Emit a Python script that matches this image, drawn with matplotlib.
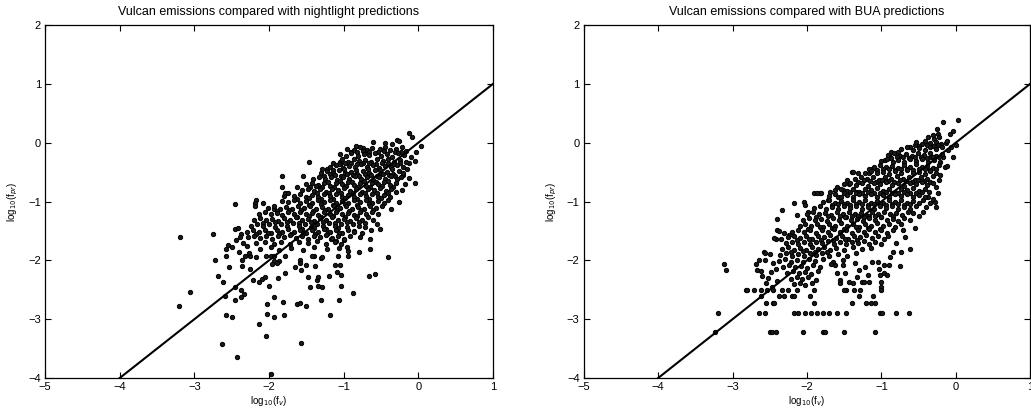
import numpy as np
import matplotlib
matplotlib.use("Agg")
import matplotlib.pyplot as plt

plt.rcParams['font.family'] = ['Liberation Sans', 'DejaVu Sans']

# axis ranges and ticks (same for both panels)
x_ticks = [-5, -4, -3, -2, -1, 0, 1]
y_ticks = [-4, -3, -2, -1, 0, 1, 2]
one_to_one = [-5, 1]

titles = ["Vulcan emissions compared with nightlight predictions",
          "Vulcan emissions compared with BUA predictions"]

# ---- nightlight panel: sparse points
nl_sparse = [
    (-3.21, -2.78), (-3.19, -1.60), (-3.06, -2.53), (-2.75, -1.56), (-2.72, -1.99), (-2.68, -2.27),
    (-2.63, -3.42), (-2.61, -2.36), (-2.59, -2.61), (-2.58, -2.93), (-2.58, -1.93), (-2.55, -1.74),
    (-2.58, -1.80), (-2.53, -2.12), (-2.50, -2.97), (-2.49, -1.77), (-2.45, -1.05), (-2.46, -1.46),
    (-2.41, -1.45), (-2.46, -2.67), (-2.43, -3.64), (-2.45, -2.46), (-2.44, -1.65), (-2.37, -1.56),
    (-2.39, -1.60), (-2.37, -2.50), (-2.33, -2.58), (-2.38, -2.62), (-2.36, -1.99), (-2.36, -2.10),
    (-2.26, -2.14), (-2.32, -1.93), (-2.25, -1.93), (-2.18, -1.94), (-2.21, -2.34), (-2.14, -2.36),
    (-2.10, -2.32), (-2.05, -2.28), (-2.00, -2.43), (-2.03, -2.74), (-2.03, -2.91), (-1.93, -2.97),
    (-1.93, -2.63), (-2.13, -3.08), (-2.04, -3.29), (-1.98, -3.93), (-1.88, -2.30), (-1.78, -2.22),
    (-1.81, -2.71), (-1.80, -2.93), (-2.04, -1.93), (-1.97, -1.93), (-1.93, -1.93), (-1.94, -2.01),
    (-1.87, -2.01), (-1.96, -2.07), (-1.90, -2.05), (-1.78, -1.93), (-1.65, -2.11), (-1.58, -2.00),
    (-1.57, -2.16), (-1.51, -2.08), (-1.59, -2.04), (-1.48, -2.28), (-1.38, -2.10), (-1.40, -1.93),
    (-1.30, -1.96), (-1.45, -2.46), (-1.36, -2.33), (-1.35, -2.29), (-1.34, -2.43), (-1.29, -2.46),
    (-1.63, -2.74), (-1.58, -2.72), (-1.51, -2.78), (-1.20, -2.26), (-1.12, -2.08), (-1.05, -2.08),
    (-1.09, -2.19), (-1.04, -2.25), (-1.04, -2.44), (-1.30, -2.68), (-1.06, -2.68), (-1.19, -2.93),
    (-1.57, -3.41), (-1.08, -1.93), (-0.94, -1.93), (-0.87, -2.56), (-0.66, -2.27), (-0.58, -2.23),
    (-0.41, -1.94), (-0.79, -1.86), (-0.65, -1.81), (-0.65, -1.64), (-0.51, -1.47), (-0.56, -1.39),
    (-0.37, -1.13), (-0.26, -1.00), (-0.05, -0.68), (-0.04, -0.31), (-0.03, -0.16), (0.03, -0.06),
    (-0.12, 0.17), (-0.08, 0.10), (-0.28, 0.05), (-0.26, 0.03), (-0.61, 0.02), (-0.83, -0.05),
    (-0.74, -0.09), (-1.05, -0.20), (-1.05, -0.33), (-1.05, -0.37), (-1.47, -0.32), (-1.29, -0.44),
    (-1.83, -0.56), (-1.54, -0.56), (-1.63, -0.76), (-1.82, -0.76), (-1.80, -0.91), (-1.82, -0.99),
    (-1.79, -0.86), (-1.75, -0.86), (-2.17, -0.97), (-2.19, -1.02), (-2.19, -1.08), (-1.42, -1.93),
    (-1.29, -1.95), (-0.95, -1.78), (-0.94, -1.84), (-1.00, -1.65), (-1.10, -1.67), (-1.17, -1.63),
    (-0.86, -1.50), (-0.76, -1.54), (-0.71, -1.43), (-0.78, -1.61), (-0.64, -1.48), (-2.08, -1.03),
    (-1.94, -1.12), (-2.40, -1.86), (-2.30, -1.75), (-2.35, -1.70), (-2.27, -1.88), (-0.20, -0.55),
    (-0.15, -0.45), (-0.18, -0.70), (-0.12, -0.60), (-0.22, -0.80), (-0.10, -0.25), (-0.13, -0.35),
    (-0.45, 0.00), (-0.35, -0.02), (-0.95, -0.10), (-0.90, -0.15), (-1.15, -0.35), (-1.22, -0.45),
]

# ---- nightlight panel: dense core of the cloud
nl_core = [
    (-0.86, -0.12), (-0.78, -0.08), (-0.69, -0.13), (-0.62, -0.09), (-0.52, -0.11), (-0.45, -0.07),
    (-0.38, -0.13), (-0.30, -0.10), (-0.22, -0.08), (-0.16, -0.14),
    (-0.82, -0.16), (-0.74, -0.14), (-0.66, -0.15), (-0.54, -0.16), (-0.46, -0.14), (-0.31, -0.15),
    (-0.23, -0.16),
    (-0.97, -0.22), (-0.90, -0.18), (-0.81, -0.23), (-0.73, -0.19), (-0.66, -0.21), (-0.58, -0.17),
    (-0.50, -0.22), (-0.42, -0.19), (-0.35, -0.24), (-0.27, -0.18), (-0.19, -0.21),
    (-1.02, -0.28), (-0.94, -0.32), (-0.86, -0.27), (-0.79, -0.31), (-0.71, -0.29), (-0.63, -0.33),
    (-0.55, -0.28), (-0.48, -0.31), (-0.40, -0.27), (-0.32, -0.32), (-0.24, -0.29), (-0.17, -0.33),
    (-1.06, -0.36), (-0.98, -0.34), (-0.90, -0.35), (-0.82, -0.36), (-0.74, -0.34), (-0.66, -0.35),
    (-0.57, -0.36), (-0.49, -0.34), (-0.41, -0.35), (-0.33, -0.36), (-0.25, -0.34),
    (-1.18, -0.41), (-1.10, -0.38), (-1.01, -0.43), (-0.93, -0.39), (-0.85, -0.42), (-0.77, -0.37),
    (-0.69, -0.41), (-0.61, -0.38), (-0.53, -0.43), (-0.45, -0.39), (-0.37, -0.42), (-0.29, -0.38),
    (-0.21, -0.41),
    (-1.15, -0.46), (-0.99, -0.45), (-0.83, -0.46), (-0.67, -0.45), (-0.51, -0.46), (-0.35, -0.45),
    (-1.31, -0.52), (-1.22, -0.48), (-1.14, -0.51), (-1.06, -0.47), (-0.98, -0.52), (-0.90, -0.49),
    (-0.82, -0.53), (-0.74, -0.48), (-0.66, -0.51), (-0.58, -0.47), (-0.50, -0.52), (-0.42, -0.49),
    (-0.34, -0.53), (-0.26, -0.48), (-0.20, -0.52),
    (-1.27, -0.56), (-1.19, -0.54), (-1.11, -0.55), (-1.03, -0.56), (-0.95, -0.54), (-0.87, -0.55),
    (-0.79, -0.56), (-0.71, -0.54), (-0.63, -0.55), (-0.55, -0.56), (-0.47, -0.54), (-0.39, -0.55),
    (-0.31, -0.56),
    (-1.41, -0.61), (-1.33, -0.58), (-1.25, -0.62), (-1.17, -0.59), (-1.09, -0.63), (-1.01, -0.58),
    (-0.93, -0.61), (-0.85, -0.57), (-0.77, -0.62), (-0.69, -0.59), (-0.61, -0.63), (-0.53, -0.58),
    (-0.45, -0.61), (-0.37, -0.57), (-0.29, -0.62), (-0.23, -0.58),
    (-1.21, -0.66), (-1.05, -0.65), (-0.89, -0.66), (-0.73, -0.65), (-0.57, -0.66), (-0.41, -0.65),
    (-1.50, -0.71), (-1.42, -0.68), (-1.34, -0.72), (-1.26, -0.69), (-1.18, -0.73), (-1.10, -0.68),
    (-1.02, -0.71), (-0.94, -0.67), (-0.86, -0.72), (-0.78, -0.69), (-0.70, -0.73), (-0.62, -0.68),
    (-0.54, -0.71), (-0.46, -0.67), (-0.38, -0.72), (-0.30, -0.69),
    (-1.45, -0.76), (-1.37, -0.74), (-1.29, -0.75), (-1.13, -0.76), (-0.97, -0.74), (-0.81, -0.75),
    (-0.65, -0.76), (-0.49, -0.74), (-0.34, -0.75),
    (-1.56, -0.81), (-1.48, -0.78), (-1.40, -0.82), (-1.32, -0.79), (-1.24, -0.83), (-1.16, -0.78),
    (-1.08, -0.81), (-1.00, -0.77), (-0.92, -0.82), (-0.84, -0.79), (-0.76, -0.83), (-0.68, -0.78),
    (-0.60, -0.81), (-0.52, -0.77), (-0.44, -0.82), (-0.36, -0.79), (-0.30, -0.84),
    (-1.36, -0.86), (-1.20, -0.85), (-1.04, -0.86), (-0.88, -0.85), (-0.72, -0.86), (-0.56, -0.85),
    (-0.40, -0.86),
    (-1.66, -0.91), (-1.58, -0.88), (-1.50, -0.92), (-1.42, -0.89), (-1.34, -0.93), (-1.26, -0.88),
    (-1.18, -0.91), (-1.10, -0.87), (-1.02, -0.92), (-0.94, -0.89), (-0.86, -0.93), (-0.78, -0.88),
    (-0.70, -0.91), (-0.62, -0.87), (-0.54, -0.92), (-0.46, -0.89), (-0.38, -0.93),
    (-1.62, -0.96), (-1.46, -0.94), (-1.30, -0.95), (-1.14, -0.96), (-0.98, -0.94), (-0.82, -0.95),
    (-0.66, -0.96), (-0.50, -0.94),
    (-1.74, -1.01), (-1.66, -0.98), (-1.58, -1.02), (-1.50, -0.99), (-1.42, -1.03), (-1.34, -0.98),
    (-1.26, -1.01), (-1.18, -0.97), (-1.10, -1.02), (-1.02, -0.99), (-0.94, -1.03), (-0.86, -0.98),
    (-0.78, -1.01), (-0.70, -0.97), (-0.62, -1.02), (-0.54, -0.99), (-0.46, -1.03), (-0.41, -0.97),
    (-1.46, -1.06), (-1.30, -1.05), (-1.14, -1.06), (-0.98, -1.05), (-0.82, -1.06), (-0.66, -1.05),
    (-2.01, -1.11), (-1.93, -1.08), (-1.85, -1.12), (-1.77, -1.09), (-1.69, -1.13), (-1.61, -1.08),
    (-1.53, -1.11), (-1.45, -1.07), (-1.37, -1.12), (-1.29, -1.09), (-1.21, -1.13), (-1.13, -1.08),
    (-1.05, -1.11), (-0.97, -1.07), (-0.89, -1.12), (-0.81, -1.09), (-0.73, -1.13), (-0.65, -1.08),
    (-0.57, -1.11), (-0.49, -1.07),
    (-1.89, -1.16), (-1.73, -1.14), (-1.57, -1.15), (-1.41, -1.16), (-1.25, -1.14), (-1.09, -1.15),
    (-0.93, -1.16), (-0.77, -1.14), (-0.61, -1.15),
    (-2.14, -1.21), (-2.06, -1.18), (-1.98, -1.22), (-1.90, -1.19), (-1.82, -1.23), (-1.74, -1.18),
    (-1.66, -1.21), (-1.58, -1.17), (-1.50, -1.22), (-1.42, -1.19), (-1.34, -1.23), (-1.26, -1.18),
    (-1.18, -1.21), (-1.10, -1.17), (-1.02, -1.22), (-0.94, -1.19), (-0.86, -1.23), (-0.78, -1.18),
    (-0.70, -1.21), (-0.62, -1.17), (-0.54, -1.22),
    (-1.62, -1.26), (-1.46, -1.25), (-1.30, -1.26), (-1.14, -1.25), (-0.98, -1.26), (-0.82, -1.25),
    (-2.20, -1.31), (-2.12, -1.28), (-2.04, -1.32), (-1.96, -1.29), (-1.88, -1.33), (-1.80, -1.28),
    (-1.72, -1.31), (-1.64, -1.27), (-1.56, -1.32), (-1.48, -1.29), (-1.40, -1.33), (-1.32, -1.28),
    (-1.24, -1.31), (-1.16, -1.27), (-1.08, -1.32), (-1.00, -1.29), (-0.92, -1.33), (-0.84, -1.28),
    (-0.76, -1.31), (-0.68, -1.27), (-0.61, -1.32),
    (-2.08, -1.36), (-1.92, -1.34), (-1.76, -1.35), (-1.60, -1.36), (-1.44, -1.34), (-1.28, -1.35),
    (-1.12, -1.36), (-0.96, -1.34), (-0.80, -1.35),
    (-2.24, -1.41), (-2.16, -1.38), (-2.08, -1.42), (-2.00, -1.39), (-1.92, -1.43), (-1.84, -1.38),
    (-1.76, -1.41), (-1.68, -1.37), (-1.60, -1.42), (-1.52, -1.39), (-1.44, -1.43), (-1.36, -1.38),
    (-1.28, -1.41), (-1.20, -1.37), (-1.12, -1.42), (-1.04, -1.39), (-0.96, -1.43), (-0.88, -1.38),
    (-0.80, -1.41), (-0.72, -1.37),
    (-1.56, -1.46), (-1.40, -1.45), (-1.24, -1.46), (-1.08, -1.45),
    (-2.30, -1.51), (-2.22, -1.48), (-2.14, -1.52), (-2.06, -1.49), (-1.98, -1.53), (-1.90, -1.48),
    (-1.82, -1.51), (-1.74, -1.47), (-1.66, -1.52), (-1.58, -1.49), (-1.50, -1.53), (-1.42, -1.48),
    (-1.34, -1.51), (-1.26, -1.47), (-1.18, -1.52), (-1.10, -1.49), (-1.02, -1.53), (-0.94, -1.48),
    (-0.86, -1.51),
    (-2.18, -1.56), (-2.02, -1.54), (-1.86, -1.55), (-1.70, -1.56), (-1.54, -1.54), (-1.38, -1.55),
    (-1.22, -1.56), (-1.06, -1.54),
    (-2.28, -1.61), (-2.20, -1.58), (-2.12, -1.62), (-2.04, -1.59), (-1.96, -1.63), (-1.88, -1.58),
    (-1.80, -1.61), (-1.72, -1.57), (-1.64, -1.62), (-1.56, -1.59), (-1.48, -1.63), (-1.40, -1.58),
    (-1.32, -1.61), (-1.24, -1.57), (-1.16, -1.62), (-1.08, -1.59), (-1.00, -1.63), (-0.92, -1.58),
    (-2.18, -1.71), (-2.06, -1.68), (-1.94, -1.72), (-1.84, -1.69), (-1.72, -1.73), (-1.60, -1.68),
    (-1.48, -1.71), (-1.36, -1.67), (-1.24, -1.72), (-1.12, -1.69), (-1.03, -1.73),
    (-2.12, -1.81), (-1.98, -1.78), (-1.86, -1.83), (-1.70, -1.79), (-1.55, -1.82), (-1.40, -1.78),
    (-1.22, -1.81), (-1.06, -1.79),
]

# ---- BUA panel: sparse points
bua_sparse = [
    (-3.11, -2.06), (-3.09, -2.17), (-2.69, -2.06), (-2.62, -2.18), (-2.58, -1.85), (-2.65, -1.99),
    (-2.67, -2.16), (-2.60, -2.27), (-2.55, -2.38), (-2.52, -2.30), (-2.49, -2.20), (-2.47, -2.45),
    (-2.45, -2.05), (-2.42, -2.15), (-2.40, -2.35), (-2.50, -1.90), (-2.56, -2.00), (-2.40, -1.29),
    (-2.33, -1.14), (-2.42, -1.63), (-2.40, -1.48), (-2.31, -1.54), (-2.17, -1.03), (-2.14, -1.23),
    (-2.04, -1.00), (-1.90, -0.85), (-1.82, -0.85), (-1.72, -0.97), (-1.69, -0.83), (-1.59, -0.75),
    (-1.46, -0.63), (-1.40, -0.49), (-1.31, -0.51), (-1.17, -0.52), (-1.13, -0.44), (-0.95, -0.29),
    (-0.88, -0.24), (-0.77, -0.15), (-0.62, -0.07), (-0.55, -0.04), (0.03, 0.39), (-0.17, 0.36),
    (-0.04, 0.20), (-0.25, 0.24), (-0.24, 0.15), (-0.22, 0.10), (-0.31, 0.13), (-0.29, 0.07),
    (-0.37, 0.09), (-0.34, -0.01), (-0.13, -0.01), (0.00, -0.04), (-0.06, -0.07), (-0.17, -0.24),
    (-0.04, -0.25), (-0.15, -0.41), (-0.33, -0.24), (-0.26, -1.09), (-0.28, -1.00), (-0.24, -0.86),
    (-0.26, -0.75), (-0.22, -0.63), (-0.37, -0.92), (-0.44, -0.97), (-0.57, -1.20), (-0.62, -1.31),
    (-0.62, -1.81), (-0.75, -2.10), (-0.71, -1.48), (-0.21, -0.55), (-0.12, -0.40), (-0.44, -1.17),
    (-0.35, -1.03), (-0.08, 0.14), (-0.87, -0.15), (-1.16, -0.44), (-1.38, -0.49), (-1.81, -0.85),
    (-1.87, -0.85), (-2.02, -1.06), (-1.99, -1.17), (-2.38, -1.50), (-2.44, -1.62), (-2.35, -1.63),
    (-2.24, -1.57), (-2.56, -1.87), (-1.58, -0.92), (-1.51, -0.80), (-1.43, -0.70), (-1.33, -0.83),
    (-1.04, -2.02), (-1.03, -2.14), (-1.02, -2.25), (-1.01, -2.36), (-1.00, -2.45), (-0.97, -2.22),
    (-0.93, -2.25), (-0.97, -2.08), (-0.90, -2.08), (-1.62, -2.08), (-1.60, -2.22), (-1.56, -2.33),
    (-1.55, -2.39), (-1.51, -2.08), (-1.49, -2.22), (-1.44, -2.36), (-1.47, -2.50), (-1.38, -2.39),
    (-1.33, -2.28), (-1.26, -2.36), (-1.23, -2.36), (-1.17, -2.36), (-0.84, -1.85), (-0.73, -1.85),
    (-1.36, -2.05), (-1.30, -2.16), (-1.22, -2.12), (-1.18, -2.25), (-1.12, -2.02), (-0.88, -1.95),
    (-0.80, -1.70), (-0.68, -1.60), (-0.55, -1.45), (-0.50, -1.25), (-0.40, -1.10), (-0.30, -0.95),
]

# ---- BUA panel: dense core
bua_core = [
    (-0.54, 0.01), (-0.46, -0.03), (-0.41, 0.03), (-0.27, 0.01), (-0.20, -0.02), (-0.12, 0.03),
    (-0.50, -0.06), (-0.38, -0.04), (-0.30, -0.06), (-0.24, -0.04),
    (-0.74, -0.11), (-0.66, -0.08), (-0.58, -0.12), (-0.50, -0.09), (-0.42, -0.13), (-0.34, -0.08),
    (-0.26, -0.11), (-0.18, -0.07), (-0.10, -0.12),
    (-0.91, -0.21), (-0.83, -0.18), (-0.75, -0.22), (-0.67, -0.19), (-0.59, -0.23), (-0.51, -0.18),
    (-0.43, -0.21), (-0.35, -0.17), (-0.27, -0.22), (-0.19, -0.19),
    (-0.87, -0.26), (-0.79, -0.24), (-0.71, -0.25), (-0.63, -0.26), (-0.55, -0.24), (-0.47, -0.25),
    (-0.39, -0.26), (-0.31, -0.24), (-0.23, -0.25),
    (-1.01, -0.31), (-0.93, -0.28), (-0.85, -0.32), (-0.77, -0.29), (-0.69, -0.33), (-0.61, -0.28),
    (-0.53, -0.31), (-0.45, -0.27), (-0.37, -0.32), (-0.29, -0.29), (-0.21, -0.33),
    (-1.10, -0.41), (-1.02, -0.38), (-0.94, -0.42), (-0.86, -0.39), (-0.78, -0.43), (-0.70, -0.38),
    (-0.62, -0.41), (-0.54, -0.37), (-0.46, -0.42), (-0.38, -0.39), (-0.30, -0.43), (-0.22, -0.38),
    (-1.06, -0.46), (-0.98, -0.44), (-0.90, -0.45), (-0.82, -0.46), (-0.74, -0.44), (-0.66, -0.45),
    (-0.58, -0.46), (-0.50, -0.44), (-0.42, -0.45), (-0.34, -0.46), (-0.26, -0.44),
    (-1.22, -0.51), (-1.14, -0.48), (-1.06, -0.52), (-0.98, -0.49), (-0.90, -0.53), (-0.82, -0.48),
    (-0.74, -0.51), (-0.66, -0.47), (-0.58, -0.52), (-0.50, -0.49), (-0.42, -0.53), (-0.34, -0.48),
    (-0.26, -0.51),
    (-1.35, -0.61), (-1.27, -0.58), (-1.19, -0.62), (-1.11, -0.59), (-1.03, -0.63), (-0.95, -0.58),
    (-0.87, -0.61), (-0.79, -0.57), (-0.71, -0.62), (-0.63, -0.59), (-0.55, -0.63), (-0.47, -0.58),
    (-0.39, -0.61), (-0.31, -0.57),
    (-1.31, -0.66), (-1.23, -0.64), (-1.15, -0.65), (-1.07, -0.66), (-0.99, -0.64), (-0.91, -0.65),
    (-0.83, -0.66), (-0.75, -0.64), (-0.67, -0.65), (-0.59, -0.66), (-0.51, -0.64), (-0.43, -0.65),
    (-0.35, -0.66),
    (-1.50, -0.71), (-1.42, -0.68), (-1.34, -0.72), (-1.26, -0.69), (-1.18, -0.73), (-1.10, -0.68),
    (-1.02, -0.71), (-0.94, -0.67), (-0.86, -0.72), (-0.78, -0.69), (-0.70, -0.73), (-0.62, -0.68),
    (-0.54, -0.71), (-0.46, -0.67), (-0.38, -0.72), (-0.31, -0.69),
    (-1.62, -0.81), (-1.54, -0.78), (-1.46, -0.82), (-1.38, -0.79), (-1.30, -0.83), (-1.22, -0.78),
    (-1.14, -0.81), (-1.06, -0.77), (-0.98, -0.82), (-0.90, -0.79), (-0.82, -0.83), (-0.74, -0.78),
    (-0.66, -0.81), (-0.58, -0.77), (-0.50, -0.82), (-0.42, -0.79), (-0.36, -0.83),
    (-1.50, -0.86), (-1.42, -0.84), (-1.34, -0.85), (-1.26, -0.86), (-1.18, -0.84), (-1.10, -0.85),
    (-1.02, -0.86), (-0.94, -0.84), (-0.86, -0.85), (-0.78, -0.86), (-0.70, -0.84), (-0.62, -0.85),
    (-0.54, -0.86), (-0.46, -0.84),
    (-1.70, -0.91), (-1.62, -0.88), (-1.54, -0.92), (-1.46, -0.89), (-1.38, -0.93), (-1.30, -0.88),
    (-1.22, -0.91), (-1.14, -0.87), (-1.06, -0.92), (-0.98, -0.89), (-0.90, -0.93), (-0.82, -0.88),
    (-0.74, -0.91), (-0.66, -0.87), (-0.58, -0.92), (-0.50, -0.89), (-0.42, -0.93),
    (-1.78, -1.01), (-1.70, -0.98), (-1.62, -1.02), (-1.54, -0.99), (-1.46, -1.03), (-1.38, -0.98),
    (-1.30, -1.01), (-1.22, -0.97), (-1.14, -1.02), (-1.06, -0.99), (-0.98, -1.03), (-0.90, -0.98),
    (-0.82, -1.01), (-0.74, -0.97), (-0.66, -1.02), (-0.58, -0.99), (-0.50, -1.03),
    (-1.66, -1.06), (-1.58, -1.04), (-1.50, -1.05), (-1.42, -1.06), (-1.34, -1.04), (-1.26, -1.05),
    (-1.18, -1.06), (-1.10, -1.04), (-1.02, -1.05), (-0.94, -1.06), (-0.86, -1.04), (-0.78, -1.05),
    (-0.70, -1.06), (-0.62, -1.04),
    (-1.90, -1.11), (-1.82, -1.08), (-1.74, -1.12), (-1.66, -1.09), (-1.58, -1.13), (-1.50, -1.08),
    (-1.42, -1.11), (-1.34, -1.07), (-1.26, -1.12), (-1.18, -1.09), (-1.10, -1.13), (-1.02, -1.08),
    (-0.94, -1.11), (-0.86, -1.07), (-0.78, -1.12), (-0.70, -1.09), (-0.62, -1.13), (-0.54, -1.08),
    (-2.00, -1.21), (-1.92, -1.18), (-1.84, -1.22), (-1.76, -1.19), (-1.68, -1.23), (-1.60, -1.18),
    (-1.52, -1.21), (-1.44, -1.17), (-1.36, -1.22), (-1.28, -1.19), (-1.20, -1.23), (-1.12, -1.18),
    (-1.04, -1.21), (-0.96, -1.17), (-0.88, -1.22), (-0.80, -1.19), (-0.72, -1.23), (-0.64, -1.18),
    (-1.88, -1.26), (-1.72, -1.24), (-1.56, -1.25), (-1.48, -1.26), (-1.40, -1.24), (-1.32, -1.25),
    (-1.24, -1.26), (-1.16, -1.24), (-1.08, -1.25), (-1.00, -1.26), (-0.84, -1.24),
    (-2.05, -1.31), (-1.97, -1.28), (-1.89, -1.32), (-1.81, -1.29), (-1.73, -1.33), (-1.65, -1.28),
    (-1.57, -1.31), (-1.49, -1.27), (-1.41, -1.32), (-1.33, -1.29), (-1.25, -1.33), (-1.17, -1.28),
    (-1.09, -1.31), (-1.01, -1.27), (-0.93, -1.32), (-0.85, -1.29), (-0.77, -1.33), (-0.69, -1.28),
    (-2.10, -1.41), (-2.02, -1.38), (-1.94, -1.42), (-1.86, -1.39), (-1.78, -1.43), (-1.70, -1.38),
    (-1.62, -1.41), (-1.54, -1.37), (-1.46, -1.42), (-1.38, -1.39), (-1.30, -1.43), (-1.22, -1.38),
    (-1.14, -1.41), (-1.06, -1.37), (-0.98, -1.42), (-0.90, -1.39), (-0.82, -1.43), (-0.74, -1.38),
    (-1.98, -1.46), (-1.82, -1.44), (-1.66, -1.45), (-1.50, -1.46), (-1.34, -1.44), (-1.18, -1.45),
    (-1.02, -1.46),
    (-2.20, -1.51), (-2.12, -1.48), (-2.04, -1.52), (-1.96, -1.49), (-1.88, -1.53), (-1.80, -1.48),
    (-1.72, -1.51), (-1.64, -1.47), (-1.56, -1.52), (-1.48, -1.49), (-1.40, -1.53), (-1.32, -1.48),
    (-1.24, -1.51), (-1.16, -1.47), (-1.08, -1.52), (-1.00, -1.49), (-0.92, -1.53), (-0.84, -1.48),
    (-2.25, -1.61), (-2.17, -1.58), (-2.09, -1.62), (-2.01, -1.59), (-1.93, -1.63), (-1.85, -1.58),
    (-1.77, -1.61), (-1.69, -1.57), (-1.61, -1.62), (-1.53, -1.59), (-1.45, -1.63), (-1.37, -1.58),
    (-1.29, -1.61), (-1.21, -1.57), (-1.13, -1.62), (-1.05, -1.59), (-0.97, -1.63), (-0.91, -1.58),
    (-2.13, -1.66), (-1.97, -1.64), (-1.81, -1.65), (-1.65, -1.66), (-1.49, -1.64), (-1.33, -1.65),
    (-2.28, -1.71), (-2.20, -1.68), (-2.12, -1.72), (-2.04, -1.69), (-1.96, -1.73), (-1.88, -1.68),
    (-1.80, -1.71), (-1.72, -1.67), (-1.64, -1.72), (-1.56, -1.69), (-1.48, -1.73), (-1.40, -1.68),
    (-1.32, -1.71), (-1.24, -1.67), (-1.16, -1.72), (-1.08, -1.69), (-1.01, -1.73),
    (-2.33, -1.81), (-2.25, -1.78), (-2.17, -1.82), (-2.09, -1.79), (-2.01, -1.83), (-1.93, -1.78),
    (-1.85, -1.81), (-1.77, -1.77), (-1.69, -1.82), (-1.61, -1.79), (-1.50, -1.83), (-1.38, -1.78),
    (-1.26, -1.81), (-1.14, -1.79),
    (-2.21, -1.86), (-2.05, -1.84), (-1.89, -1.85), (-1.73, -1.86),
    (-2.36, -1.91), (-2.28, -1.88), (-2.20, -1.92), (-2.12, -1.89), (-2.04, -1.93), (-1.96, -1.88),
    (-1.88, -1.91), (-1.80, -1.87), (-1.70, -1.92), (-1.58, -1.89), (-1.46, -1.93), (-1.34, -1.88),
    (-2.37, -2.01), (-2.29, -1.98), (-2.21, -2.02), (-2.13, -1.99), (-2.05, -2.03), (-1.97, -1.98),
    (-1.89, -2.01), (-1.79, -1.97), (-1.65, -2.02), (-1.52, -1.99),
    (-2.32, -2.11), (-2.24, -2.08), (-2.16, -2.12), (-2.08, -2.09), (-2.00, -2.13), (-1.92, -2.08),
    (-1.82, -2.11), (-1.68, -2.07),
    (-2.27, -2.21), (-2.19, -2.18), (-2.11, -2.22), (-2.03, -2.19), (-1.95, -2.23), (-1.85, -2.18),
    (-2.22, -2.31), (-2.14, -2.28), (-2.06, -2.32), (-1.98, -2.29), (-1.88, -2.33),
    (-2.18, -2.41), (-2.10, -2.38), (-2.02, -2.42), (-1.93, -2.39),
]

# ---- BUA panel: the quantised rows at the bottom of the cloud
bua_rows_y = [-2.50, -2.61, -2.73, -2.90, -3.21]
bua_rows_x = [
    [-2.82, -2.80, -2.71, -2.62, -2.54, -2.45, -2.34, -2.26, -2.14, -1.90, -1.50, -1.37, -1.29, -1.00],
    [-2.62, -2.38, -2.31, -2.20, -2.17, -1.96, -1.30, -1.11],
    [-2.55, -2.46, -2.44, -1.90, -1.40, -1.20, -1.14, -1.08],
    [-3.19, -2.65, -2.56, -2.18, -2.12, -2.03, -1.94, -1.86, -1.78, -1.70, -1.59, -1.48, -1.02,
     -0.99, -0.81, -0.63],
    [-3.24, -2.50, -2.47, -2.42, -2.05, -1.79, -1.76, -1.50, -1.08],
]

nl = np.array(nl_sparse + nl_core)
bua_rows = [(x, y) for y, xs in zip(bua_rows_y, bua_rows_x) for x in xs]
bua = np.array(bua_sparse + bua_core + bua_rows)

fig = plt.figure(figsize=(10.31, 4.13), dpi=100)
ax1 = fig.add_axes([0.0437, 0.0847, 0.4345, 0.8547])
ax2 = fig.add_axes([0.5662, 0.0847, 0.4330, 0.8547])

for ax, pts, title in zip([ax1, ax2], [nl, bua], titles):
    ax.plot(pts[:, 0], pts[:, 1], 'o', ms=3.1, mfc='#1a1a1a', mec='black', mew=0.7)
    ax.plot(one_to_one, one_to_one, '-', color='black', lw=1.5)
    ax.set_xlim(-5, 1)
    ax.set_ylim(-4, 2)
    ax.set_xticks(x_ticks)
    ax.set_yticks(y_ticks)
    ax.tick_params(direction='in', top=True, right=True, length=4, width=0.8,
                   labelsize=8, pad=3)
    for s in ax.spines.values():
        s.set_linewidth(0.9)
    ax.set_title(title, fontsize=9, pad=7)
    ax.set_xlabel(r'log$_{10}$(f$_v$)', fontsize=7, labelpad=1)
    ax.set_ylabel(r'log$_{10}$(f$_{pr}$)', fontsize=7, labelpad=6)

fig.savefig('out.png', dpi=100)
